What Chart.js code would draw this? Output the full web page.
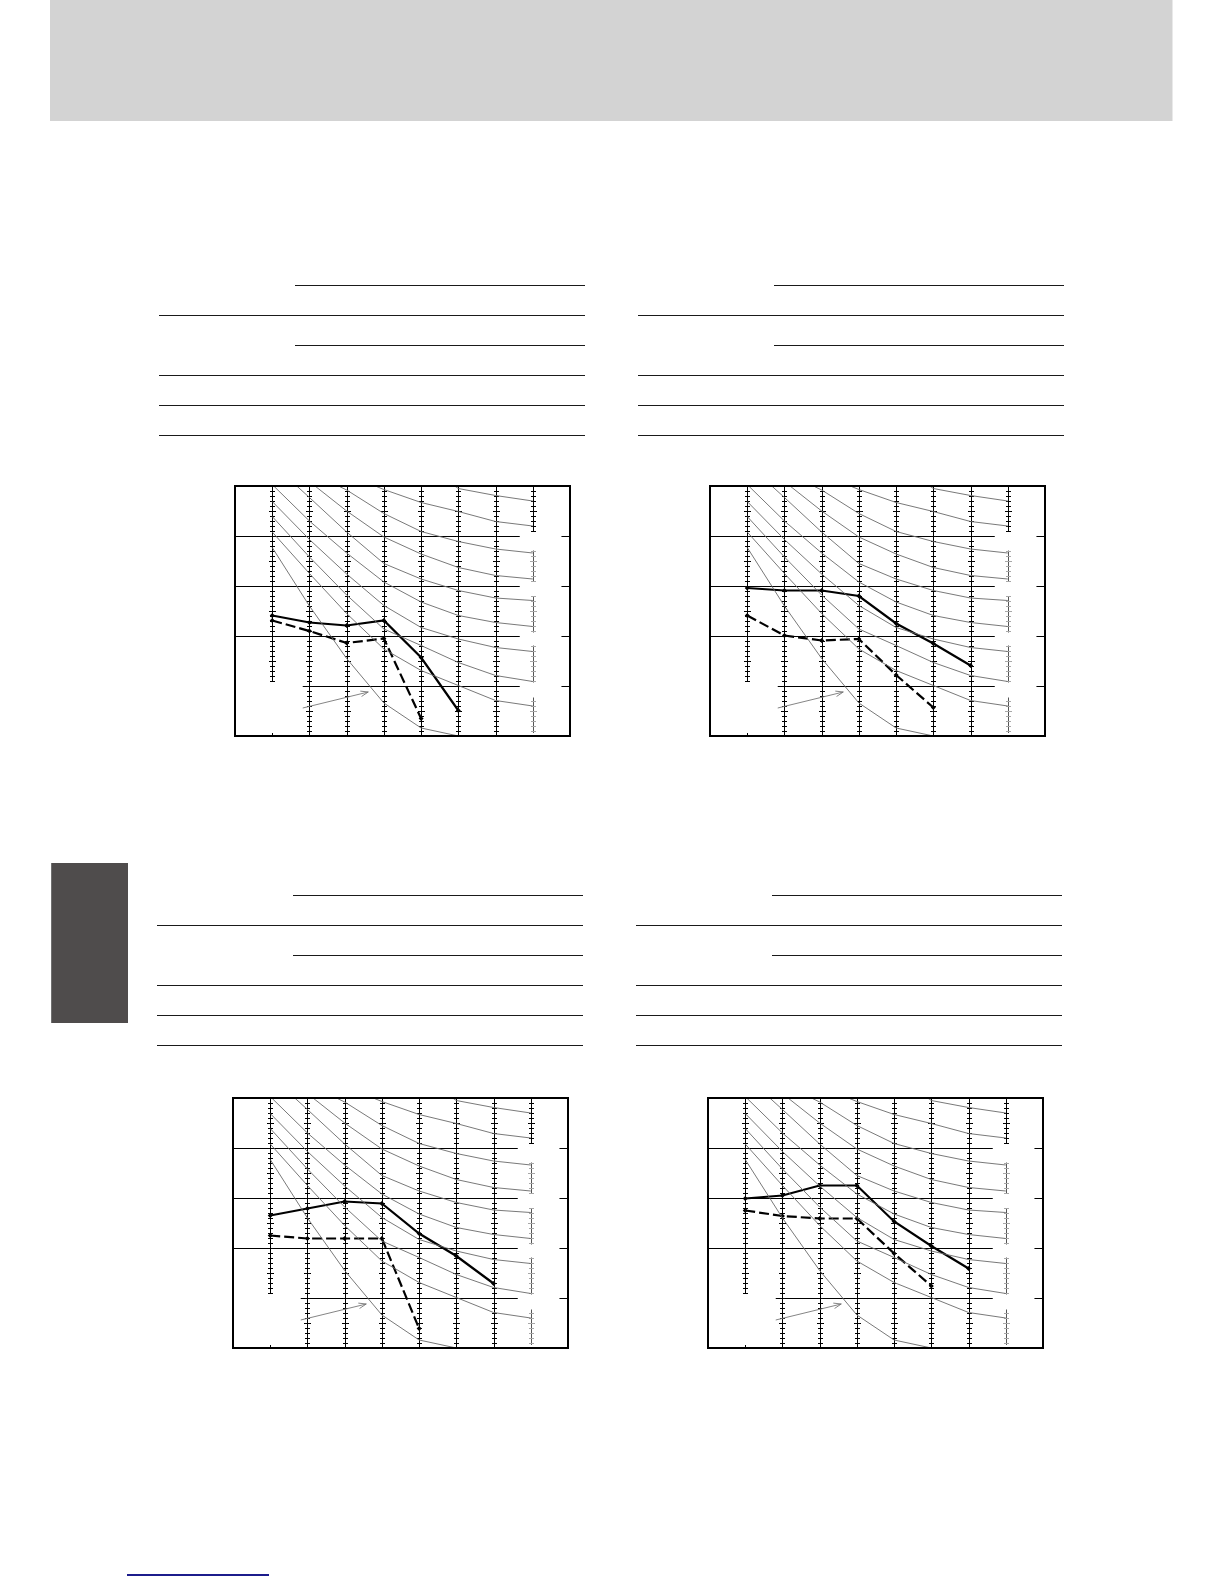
<!DOCTYPE html>
<html>
<head>
<meta charset="utf-8">
<title>charts</title>
<script src="https://cdn.jsdelivr.net/npm/chart.js@4.4.0/dist/chart.umd.min.js"></script>
<style>
html, body { margin: 0; padding: 0; background: #fff; }
#page { position: relative; width: 1224px; height: 1584px; overflow: hidden; background: #fff; }
.band { position: absolute; left: 50px; top: 0; width: 1122px; height: 121px; background: #d3d3d3; }
.band-edge { position: absolute; left: 1172px; top: 0; width: 1px; height: 121px; background: #e9e9e9; }
.tab { position: absolute; left: 51px; top: 863px; width: 76px; height: 160px; background: #4f4c4c; border-left: 1px solid #707070; }
.footline { position: absolute; left: 127px; top: 1574px; width: 142px; height: 2px; background: #1c1c8c; }
.rule { position: absolute; height: 1.4px; background: #1a1a1a; }
.box { position: absolute; width: 347px; height: 262px; }
</style>
</head>
<body>
<div id="page">
    <div class="band"></div>
    <div class="band-edge"></div>
    <div class="tab"></div>
    <div class="footline"></div>

    <!-- table top left -->
    <div class="rule" style="left:295px; top:285px; width:290px;"></div>
    <div class="rule" style="left:159px; top:315px; width:426px;"></div>
    <div class="rule" style="left:295px; top:345px; width:290px;"></div>
    <div class="rule" style="left:159px; top:375px; width:426px;"></div>
    <div class="rule" style="left:159px; top:405px; width:426px;"></div>
    <div class="rule" style="left:159px; top:435px; width:426px;"></div>

    <!-- table top right -->
    <div class="rule" style="left:774px; top:285px; width:290px;"></div>
    <div class="rule" style="left:638px; top:315px; width:426px;"></div>
    <div class="rule" style="left:774px; top:345px; width:290px;"></div>
    <div class="rule" style="left:638px; top:375px; width:426px;"></div>
    <div class="rule" style="left:638px; top:405px; width:426px;"></div>
    <div class="rule" style="left:638px; top:435px; width:426px;"></div>

    <!-- table bottom left -->
    <div class="rule" style="left:293px; top:895px; width:290px;"></div>
    <div class="rule" style="left:157px; top:925px; width:426px;"></div>
    <div class="rule" style="left:293px; top:955px; width:290px;"></div>
    <div class="rule" style="left:157px; top:985px; width:426px;"></div>
    <div class="rule" style="left:157px; top:1015px; width:426px;"></div>
    <div class="rule" style="left:157px; top:1045px; width:426px;"></div>

    <!-- table bottom right -->
    <div class="rule" style="left:772px; top:895px; width:290px;"></div>
    <div class="rule" style="left:636px; top:925px; width:426px;"></div>
    <div class="rule" style="left:772px; top:955px; width:290px;"></div>
    <div class="rule" style="left:636px; top:985px; width:426px;"></div>
    <div class="rule" style="left:636px; top:1015px; width:426px;"></div>
    <div class="rule" style="left:636px; top:1045px; width:426px;"></div>

    <div class="box" style="left:229px; top:480px;"><canvas id="chart1" width="347" height="262"></canvas></div>
    <div class="box" style="left:704px; top:480px;"><canvas id="chart2" width="347" height="262"></canvas></div>
    <div class="box" style="left:227px; top:1092px;"><canvas id="chart3" width="347" height="262"></canvas></div>
    <div class="box" style="left:702px; top:1092px;"><canvas id="chart4" width="347" height="262"></canvas></div>
</div>

<script>
// ladder positions on the x axis
var stations = [1, 2, 3, 4, 5, 6, 7, 8];

// measured series (one value per ladder, from the left)
var solidA = [2.41, 2.27, 2.21, 2.31, 1.57, 0.51];
var dashedA = [2.31, 2.10, 1.86, 1.95, 0.35];
var solidB = [2.96, 2.91, 2.91, 2.80, 2.25, 1.85, 1.41];
var dashedB = [2.41, 2.01, 1.91, 1.94, 1.22, 0.57];
var solidC = [2.65, 2.79, 2.93, 2.89, 2.29, 1.84, 1.29];
var dashedC = [2.25, 2.19, 2.19, 2.19, 0.39];
var solidD = [2.99, 3.05, 3.25, 3.25, 2.53, 2.04, 1.59];
var dashedD = [2.75, 2.64, 2.59, 2.59, 1.89, 1.24];

// thin guide curves, [x, y]
var curve1 = [[5.9, 5.0], [6, 4.95], [7, 4.81], [8, 4.70]];
var curve2 = [[3.77, 5.0], [4, 4.93], [5, 4.67], [6, 4.49], [7, 4.29], [8, 4.20]];
var curve3 = [[2.78, 5.0], [3, 4.92], [4, 4.45], [5, 4.09], [6, 3.89], [7, 3.74], [8, 3.66]];
var curve4 = [[2.15, 5.0], [3, 4.50], [4, 3.98], [5, 3.64], [6, 3.37], [7, 3.21], [8, 3.14]];
var curve5 = [[1.66, 5.0], [2, 4.77], [3, 4.08], [4, 3.45], [5, 3.14], [6, 2.91], [7, 2.76], [8, 2.71]];
var curve6 = [[1.04, 5.0], [2, 4.30], [3, 3.66], [4, 3.08], [5, 2.68], [6, 2.41], [7, 2.27], [8, 2.19]];
var curve7 = [[1, 4.69], [2, 3.93], [3, 3.24], [4, 2.61], [5, 2.17], [6, 1.94], [7, 1.77], [8, 1.69]];
var curve8 = [[1, 4.39], [2, 3.58], [3, 2.82], [4, 2.14], [5, 1.81], [6, 1.47], [7, 1.21], [8, 1.09]];
var curve9 = [[1, 4.08], [2, 3.25], [3, 2.45], [4, 1.74], [5, 1.31], [6, 1.01], [7, 0.71], [8, 0.60]];
var curve10 = [[1, 3.77], [2, 2.60], [3, 1.55], [4, 0.66], [5, 0.16], [6, 0.0]];

var arrowLine = [[1.82, 0.56], [3.58, 0.88]];

// horizontal rules and where they start
var gridLevels = [4, 3, 2, 1];
var gridStart = [0, 0, 0, 1.82];
var gapFrom = 7.65, gapTo = 8.77;

// first ladder is short, last ladder is broken into pieces
var firstLadder = [1.1, 5];
var lastLadder = [[4.08, 5], [3.09, 3.71], [2.07, 2.80], [1.07, 1.81], [0.06, 0.77]];

function pairs(list) {
    return list.map(function (p) { return { x: p[0], y: p[1] }; });
}

function atStations(vals) {
    return vals.map(function (v, i) { return { x: stations[i], y: v }; });
}

function drawLadder(ctx, xs, ys, s, lo, hi, lineCol, tickCol) {
    var px = Math.round(xs.getPixelForValue(s)) + 0.5;
    ctx.lineWidth = 1;
    ctx.strokeStyle = lineCol;
    ctx.beginPath();
    ctx.moveTo(px, ys.getPixelForValue(hi));
    ctx.lineTo(px, ys.getPixelForValue(lo));
    ctx.stroke();
    ctx.strokeStyle = tickCol;
    ctx.beginPath();
    for (var k = Math.ceil(lo * 10 - 0.001); k <= Math.floor(hi * 10 + 0.001); k++) {
        var py = Math.round(ys.getPixelForValue(k / 10)) + 0.5;
        var half = (k % 5 === 0) ? 3.5 : 2.5;
        ctx.moveTo(px - half, py);
        ctx.lineTo(px + half, py);
    }
    ctx.stroke();
}

var chartDecor = {
    id: 'chartDecor',
    beforeDatasetsDraw: function (chart) {
        var ctx = chart.ctx, xs = chart.scales.x, ys = chart.scales.y;
        ctx.save();
        ctx.strokeStyle = '#000';
        ctx.lineWidth = 1;
        gridLevels.forEach(function (lv, i) {
            var py = Math.round(ys.getPixelForValue(lv)) + 0.5;
            ctx.beginPath();
            ctx.moveTo(xs.getPixelForValue(gridStart[i]), py);
            ctx.lineTo(xs.getPixelForValue(gapFrom), py);
            ctx.moveTo(xs.getPixelForValue(gapTo), py);
            ctx.lineTo(xs.getPixelForValue(9), py);
            ctx.stroke();
        });
        stations.forEach(function (s, i) {
            if (i === 0) {
                drawLadder(ctx, xs, ys, s, firstLadder[0], firstLadder[1], '#000', '#000');
                // small stub on the bottom edge
                var px = Math.round(xs.getPixelForValue(s)) + 0.5;
                ctx.beginPath();
                ctx.moveTo(px, ys.getPixelForValue(0));
                ctx.lineTo(px, ys.getPixelForValue(0) - 3);
                ctx.stroke();
            } else if (i === stations.length - 1) {
                lastLadder.forEach(function (seg, j) {
                    drawLadder(ctx, xs, ys, s, seg[0], seg[1], j === 0 ? '#000' : '#555', j === 0 ? '#000' : '#a8a8a8');
                });
            } else {
                drawLadder(ctx, xs, ys, s, 0, 5, '#000', '#000');
            }
        });
        ctx.restore();
    },
    afterDatasetsDraw: function (chart) {
        var ctx = chart.ctx, xs = chart.scales.x, ys = chart.scales.y, a = chart.chartArea;
        ctx.save();
        // arrow head
        var x0 = xs.getPixelForValue(arrowLine[0][0]), y0 = ys.getPixelForValue(arrowLine[0][1]);
        var x1 = xs.getPixelForValue(arrowLine[1][0]), y1 = ys.getPixelForValue(arrowLine[1][1]);
        var ang = Math.atan2(y1 - y0, x1 - x0);
        ctx.strokeStyle = '#777';
        ctx.lineWidth = 0.9;
        ctx.beginPath();
        ctx.moveTo(x1 - 8 * Math.cos(ang - 0.35), y1 - 8 * Math.sin(ang - 0.35));
        ctx.lineTo(x1, y1);
        ctx.lineTo(x1 - 8 * Math.cos(ang + 0.35), y1 - 8 * Math.sin(ang + 0.35));
        ctx.stroke();
        // frame
        ctx.strokeStyle = '#000';
        ctx.lineWidth = 2;
        ctx.strokeRect(a.left, a.top, a.right - a.left, a.bottom - a.top);
        ctx.restore();
    }
};

function makeChart(id, solid, dashed) {
    var curves = [curve1, curve2, curve3, curve4, curve5, curve6, curve7, curve8, curve9, curve10];
    var datasets = curves.map(function (c) {
        return {
            data: pairs(c),
            borderColor: '#6a6a6a',
            borderWidth: 0.9,
            pointRadius: 0,
            tension: 0
        };
    });
    datasets.push({
        data: pairs(arrowLine),
        borderColor: '#777',
        borderWidth: 0.9,
        pointRadius: 0
    });
    datasets.push({
        data: atStations(dashed),
        borderColor: '#000',
        backgroundColor: '#000',
        borderWidth: 2.2,
        borderDash: [10, 4],
        pointStyle: 'rectRot',
        pointRadius: 2.5,
        pointBorderWidth: 0,
        tension: 0
    });
    datasets.push({
        data: atStations(solid),
        borderColor: '#000',
        backgroundColor: '#000',
        borderWidth: 2.2,
        pointStyle: 'rectRot',
        pointRadius: 2.5,
        pointBorderWidth: 0,
        tension: 0
    });

    return new Chart(document.getElementById(id), {
        type: 'line',
        data: { datasets: datasets },
        options: {
            responsive: false,
            animation: false,
            events: [],
            layout: { padding: 6 },
            plugins: {
                legend: { display: false },
                tooltip: { enabled: false }
            },
            scales: {
                x: { type: 'linear', min: 0, max: 9, display: false },
                y: { type: 'linear', min: 0, max: 5, display: false }
            }
        },
        plugins: [chartDecor]
    });
}

makeChart('chart1', solidA, dashedA);
makeChart('chart2', solidB, dashedB);
makeChart('chart3', solidC, dashedC);
makeChart('chart4', solidD, dashedD);
</script>
</body>
</html>
